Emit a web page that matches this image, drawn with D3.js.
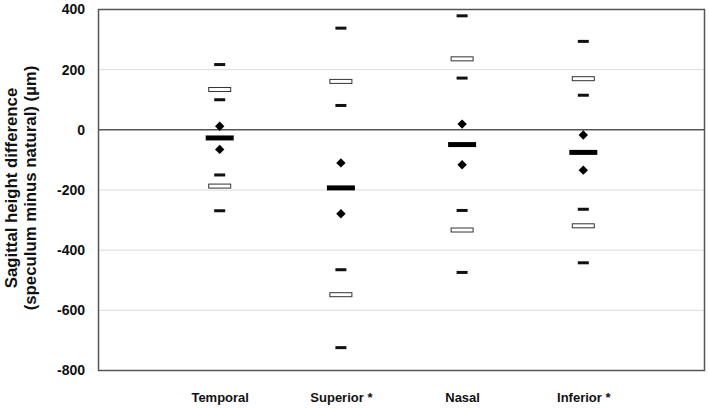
<!DOCTYPE html>
<html>
<head>
<meta charset="utf-8">
<script src="https://cdn.jsdelivr.net/npm/d3@7"></script>
<style>
  html, body { margin: 0; padding: 0; background: #fff; }
  svg { display: block; font-family: "Liberation Sans", Arial, sans-serif; }
</style>
</head>
<body>
<svg id="chart" width="709" height="409"></svg>
<script>
// ---- data (µm) ----
const categories = ["Temporal", "Superior *", "Nasal", "Inferior *"];
const maxVals      = [217, 338, 379, 294];
const upperRect    = [134, 161, 236, 170];
const upperDash    = [100, 81, 172, 115];
const upperDiamond = [12, -110, 19, -17];
const meanVals     = [-27, -193, -49, -75];
const lowerDiamond = [-65, -279, -116, -134];
const lowerDash    = [-150, -465, -268, -264];
const lowerRect    = [-187, -548, -333, -319];
const minVals      = [-269, -724, -474, -442];
const yTicks = [400, 200, 0, -200, -400, -600, -800];

const svg = d3.select("#chart");
const m = { left: 98.5, right: 704.5, top: 9.5, bottom: 370.5 };

const x = d3.scalePoint().domain(categories).range([m.left, m.right]).padding(1);
const y = d3.scaleLinear().domain([-800, 400]).range([m.bottom, m.top]);

// gridlines
svg.append("g").selectAll("line")
  .data(yTicks.filter(d => d !== 0 && d !== 400 && d !== -800))
  .join("line")
  .attr("x1", m.left).attr("x2", m.right)
  .attr("y1", d => y(d)).attr("y2", d => y(d))
  .attr("stroke", "#dcdcdc").attr("stroke-width", 1);

// zero line
svg.append("line")
  .attr("x1", m.left).attr("x2", m.right)
  .attr("y1", y(0)).attr("y2", y(0))
  .attr("stroke", "#555").attr("stroke-width", 1.5);

// frame
svg.append("rect")
  .attr("x", m.left).attr("y", m.top)
  .attr("width", m.right - m.left).attr("height", m.bottom - m.top)
  .attr("fill", "none").attr("stroke", "#555").attr("stroke-width", 1.5);

// y axis labels
const yAxis = d3.axisLeft(y).tickValues(yTicks).tickFormat(d => String(d)).tickSize(0).tickPadding(13.5);
const gy = svg.append("g").attr("transform", `translate(${m.left},0)`).call(yAxis);
gy.select(".domain").remove();
gy.selectAll("text")
  .attr("font-size", 14).attr("font-weight", "bold").attr("fill", "#111")
  .attr("font-family", "'Liberation Sans', Arial, sans-serif");

// x axis labels
const xAxis = d3.axisBottom(x).tickSize(0).tickPadding(22);
const gx = svg.append("g").attr("transform", `translate(0,${m.bottom})`).call(xAxis);
gx.select(".domain").remove();
gx.selectAll("text")
  .attr("font-size", 13).attr("font-weight", "bold").attr("fill", "#111")
  .attr("font-family", "'Liberation Sans', Arial, sans-serif");

// y title
const title = svg.append("text")
  .attr("transform", `translate(0,188) rotate(-90)`)
  .attr("text-anchor", "middle")
  .attr("font-size", 16.8).attr("font-weight", "bold").attr("fill", "#111");
title.append("tspan").attr("x", 0).attr("y", 17).text("Sagittal height difference");
title.append("tspan").attr("x", 0).attr("y", 36).text("(speculum minus natural) (µm)");

const marks = svg.append("g");

// small dashes
function dashes(vals) {
  marks.append("g").selectAll("rect")
    .data(vals.map((v, i) => ({ c: categories[i], v })))
    .join("rect")
    .attr("x", d => x(d.c) - 5.5).attr("y", d => y(d.v) - 1.5)
    .attr("width", 11).attr("height", 3)
    .attr("fill", "#111");
}
dashes(maxVals); dashes(upperDash); dashes(lowerDash); dashes(minVals);

// open rectangles
function openRects(vals) {
  marks.append("g").selectAll("rect")
    .data(vals.map((v, i) => ({ c: categories[i], v })))
    .join("rect")
    .attr("x", d => x(d.c) - 11).attr("y", d => y(d.v) - 2)
    .attr("width", 22).attr("height", 4)
    .attr("fill", "#fff").attr("stroke", "#333").attr("stroke-width", 1);
}
openRects(upperRect); openRects(lowerRect);

// diamonds
const diamond = d3.symbol().type(d3.symbolSquare).size(44);
function diamonds(vals) {
  marks.append("g").selectAll("path")
    .data(vals.map((v, i) => ({ c: categories[i], v })))
    .join("path")
    .attr("d", diamond)
    .attr("transform", d => `translate(${x(d.c)},${y(d.v)}) rotate(45)`)
    .attr("fill", "#000");
}
diamonds(upperDiamond); diamonds(lowerDiamond);

// mean bars
marks.append("g").selectAll("rect")
  .data(meanVals.map((v, i) => ({ c: categories[i], v })))
  .join("rect")
  .attr("x", d => x(d.c) - 14).attr("y", d => y(d.v) - 2.5)
  .attr("width", 28).attr("height", 5)
  .attr("fill", "#000");
</script>
</body>
</html>
